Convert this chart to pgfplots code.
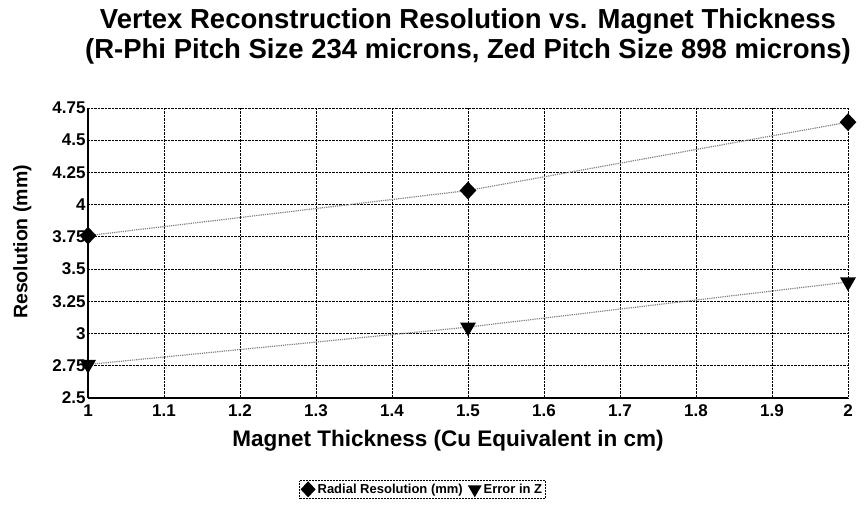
\documentclass[border=0pt]{standalone}
\usepackage{pgfplots}
\pgfplotsset{compat=1.18}
\usepackage{fontspec}
\setmainfont{Liberation Sans}
\begin{document}
\begin{tikzpicture}
\begin{axis}[
  scale only axis,
  width=760pt, height=290pt,
  xmin=1, xmax=2, ymin=2.5, ymax=4.75,
  xtick={1,1.1,...,2.01},
  ytick={2.5,2.75,3,3.25,3.5,3.75,4,4.25,4.5,4.75},
  yticklabels={2.5,2.75,3,3.25,3.5,3.75,4,4.25,4.5,4.75},
  xticklabels={1,1.1,1.2,1.3,1.4,1.5,1.6,1.7,1.8,1.9,2},
  /pgf/number format/assume math mode=true,
  tick label style={font=\fontsize{17}{19}\selectfont\bfseries},
  yticklabel style={xshift=1pt},
  xticklabel style={yshift=-3pt},
  major tick length=0pt,
  grid=major,
  major grid style={black, densely dotted, line width=0.8pt},
  axis x line*=bottom, axis y line*=left,
  axis line style={black, line width=1.2pt, -},
  xlabel={Magnet Thickness (Cu Equivalent in cm)},
  ylabel={Resolution (mm)},
  xlabel style={font=\fontsize{22.5}{26}\selectfont\bfseries, yshift=-7pt, xshift=-20pt},
  ylabel style={font=\fontsize{19.5}{22}\selectfont\bfseries, yshift=14pt, xshift=11pt},
  title={Vertex Reconstruction Resolution vs. Magnet Thickness\\(R-Phi Pitch Size 234 microns, Zed Pitch Size 898 microns)},
  title style={font=\fontsize{27.5}{30}\selectfont\bfseries, align=center, yshift=34pt},
  legend columns=2,
  legend style={at={(0.44,-0.283)}, anchor=north, draw=black, densely dotted, line width=0.5pt,
    font=\fontsize{13}{15}\selectfont\bfseries, inner sep=1pt,
    /tikz/every even column/.append style={column sep=3pt}},
  legend image code/.code={\draw[#1, draw opacity=0] plot coordinates {(0.2cm,0cm)};},
  clip=false,
]
\addplot[gray, densely dotted, line width=1.2pt, mark=diamond*, mark size=8pt,
  mark options={solid, black, fill=black, xscale=1.25}]
  coordinates {(1,3.76) (1.5,4.11) (2,4.64)};
\addlegendentry{Radial Resolution (mm)}
\addplot[gray, densely dotted, line width=1.2pt, mark=triangle*, mark size=8pt,
  mark options={solid, black, fill=black, rotate=180}]
  coordinates {(1,2.76) (1.5,3.05) (2,3.40)};
\addlegendentry{Error in Z}
\end{axis}
\pgfresetboundingbox
\path ([shift={(-88pt,-108pt)}]current axis.south west) rectangle ([shift={(18pt,108pt)}]current axis.north east);
\end{tikzpicture}
\end{document}
